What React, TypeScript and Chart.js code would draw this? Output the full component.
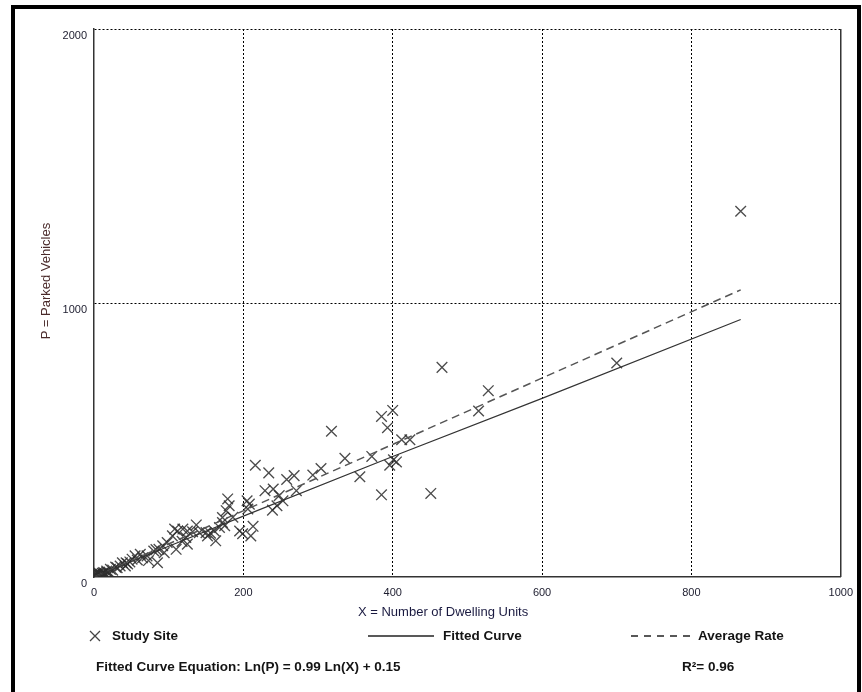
import React, { useEffect, useRef } from "react";
import { Chart, registerables } from "chart.js";

Chart.register(...registerables);

// ---- data ----
const xTicks = [0, 200, 400, 600, 800, 1000];
const yTicks = [0, 1000, 2000];

const studyX = [
  866, 700, 528, 515, 466, 451, 423, 412, 405, 400, 401, 396, 393, 385, 385, 372, 356, 336, 318, 304,
  293, 271, 268, 258, 253, 248, 245, 240, 239, 234, 229, 216, 213, 210, 208, 205, 206, 199, 195, 181,
  179, 177, 172, 186, 175, 168, 161, 163, 172, 150, 156, 152, 141, 137, 132, 125, 119, 108, 105, 112,
  123, 125, 118, 110, 98, 92, 87, 83, 80, 94, 85, 73, 71, 62, 55, 51, 43, 38, 42, 31,
  29, 22, 17, 13, 7, 4, 1, 6, 2, 10, 15, 25, 45, 65, 58, 8, 12, 20, 35, 48,
  3, 5, 9, 11, 14, 18, 0,
];
const studyP = [
  1335, 781, 680, 606, 765, 305, 501, 501, 420, 608, 428, 408, 545, 586, 300, 440, 366, 433, 532, 396,
  372, 315, 370, 356, 278, 297, 260, 321, 244, 380, 315, 408, 185, 150, 266, 278, 248, 158, 168, 260,
  285, 242, 217, 218, 187, 181, 168, 132, 199, 162, 160, 150, 162, 190, 165, 168, 175, 175, 150, 168,
  144, 120, 130, 101, 126, 114, 101, 100, 95, 89, 52, 60, 77, 83, 77, 65, 52, 52, 40, 34,
  36, 28, 22, 16, 14, 16, 10, 4, 2, 8, 12, 25, 48, 70, 62, 6, 12, 18, 40, 55,
  8, 12, 10, 14, 8, 16, 4,
];

const fittedX = [2, 100, 200, 400, 600, 866];
const fittedP = [2, 112, 222, 440, 652, 940];

const avgX = [2, 866];
const avgP = [2, 1048];

const FONT = '"Liberation Sans", Arial, Helvetica, sans-serif';

export default function App() {
  const ref = useRef<HTMLCanvasElement>(null);

  useEffect(() => {
    const canvas = ref.current;
    if (!canvas) return;

    const extras = {
      id: "extras",
      afterDatasetsDraw(chart: any) {
        const { ctx, chartArea } = chart;
        ctx.save();
        // right plot border
        ctx.strokeStyle = "#333";
        ctx.lineWidth = 1.5;
        ctx.beginPath();
        ctx.moveTo(chartArea.right, chartArea.top);
        ctx.lineTo(chartArea.right, chartArea.bottom);
        ctx.stroke();
        // legend symbols
        const ly = 636;
        ctx.strokeStyle = "#444";
        ctx.lineWidth = 1.3;
        ctx.beginPath();
        ctx.moveTo(90, ly - 5);
        ctx.lineTo(100, ly + 5);
        ctx.moveTo(100, ly - 5);
        ctx.lineTo(90, ly + 5);
        ctx.stroke();
        ctx.strokeStyle = "#222";
        ctx.lineWidth = 1.3;
        ctx.beginPath();
        ctx.moveTo(368, ly);
        ctx.lineTo(434, ly);
        ctx.stroke();
        ctx.setLineDash([7, 6]);
        ctx.beginPath();
        ctx.moveTo(631, ly);
        ctx.lineTo(691, ly);
        ctx.stroke();
        ctx.restore();
      },
    };

    const tickColor = "#1c1c2e";

    const chart = new Chart(canvas, {
      type: "scatter",
      data: {
        datasets: [
          {
            label: "Fitted Curve",
            data: fittedX.map((x, i) => ({ x, y: fittedP[i] })),
            showLine: true,
            borderColor: "#333",
            borderWidth: 1.2,
            pointRadius: 0,
            fill: false,
          },
          {
            label: "Average Rate",
            data: avgX.map((x, i) => ({ x, y: avgP[i] })),
            showLine: true,
            borderColor: "#555",
            borderWidth: 1.5,
            borderDash: [8, 5],
            pointRadius: 0,
            fill: false,
          },
          {
            label: "Study Site",
            data: studyX.map((x, i) => ({ x, y: studyP[i] })),
            showLine: false,
            pointStyle: "crossRot",
            pointRadius: 7.5,
            borderColor: "rgba(45,45,45,0.85)",
            borderWidth: 1.35,
            backgroundColor: "transparent",
          },
        ],
      },
      options: {
        responsive: false,
        animation: false,
        devicePixelRatio: 1,
        layout: { padding: { left: 0, top: 29, right: 20, bottom: 0 } },
        plugins: {
          legend: { display: false },
          tooltip: { enabled: false },
          title: { display: false },
        },
        scales: {
          x: {
            type: "linear",
            min: 0,
            max: 1000,
            afterBuildTicks: (s: any) => {
              s.ticks = xTicks.map((v) => ({ value: v }));
            },
            afterFit: (s: any) => {
              s.height = 115;
            },
            grid: {
              color: (c: any) =>
                c.tick && (c.tick.value === 0 || c.tick.value === 1000) ? "rgba(0,0,0,0)" : "#000",
              lineWidth: 1,
              drawTicks: false,
            },
            border: { display: true, color: "#333", width: 1.5, dash: [2, 2] },
            ticks: {
              padding: 9,
              color: tickColor,
              font: { family: FONT, size: 11 },
              maxRotation: 0,
              autoSkip: false,
              callback: (v: any) => String(v),
            },
          },
          y: {
            type: "linear",
            min: 0,
            max: 2000,
            afterBuildTicks: (s: any) => {
              s.ticks = yTicks.map((v) => ({ value: v }));
            },
            afterFit: (s: any) => {
              s.width = 94;
            },
            grid: {
              color: (c: any) => (c.tick && c.tick.value === 0 ? "rgba(0,0,0,0)" : "#000"),
              lineWidth: 1,
              drawTicks: false,
            },
            border: { display: true, color: "#333", width: 1.5, dash: [2, 2] },
            ticks: {
              padding: 7,
              labelOffset: 7,
              color: tickColor,
              font: { family: FONT, size: 11 },
              autoSkip: false,
              callback: (v: any) => String(v),
            },
          },
        },
      } as any,
      plugins: [extras],
    });

    return () => chart.destroy();
  }, []);

  const legendText: React.CSSProperties = {
    position: "absolute",
    fontFamily: FONT,
    fontWeight: "bold",
    fontSize: 13.5,
    lineHeight: "16px",
    color: "#141414",
    whiteSpace: "nowrap",
  };

  return (
    <div
      style={{
        position: "fixed",
        left: 0,
        top: 0,
        width: 862,
        height: 692,
        background: "#fff",
        overflow: "hidden",
      }}
    >
      <canvas ref={ref} width={862} height={692} style={{ position: "absolute", left: 0, top: 0 }} />
      <div
        style={{
          position: "absolute",
          left: 11,
          top: 5,
          width: 842,
          height: 720,
          borderTop: "4.5px solid #000",
          borderLeft: "4.5px solid #000",
          borderRight: "4.5px solid #000",
          pointerEvents: "none",
        }}
      />
      <div
        style={{
          position: "absolute",
          left: 45,
          top: 281,
          transform: "translate(-50%, -50%) rotate(-90deg)",
          fontFamily: FONT,
          fontSize: 13,
          lineHeight: "15px",
          color: "#4a2a2a",
          whiteSpace: "nowrap",
        }}
      >
        P = Parked Vehicles
      </div>
      <div
        style={{
          position: "absolute",
          left: 358,
          top: 603.5,
          fontFamily: FONT,
          fontSize: 13,
          lineHeight: "15px",
          color: "#1a1a40",
          whiteSpace: "nowrap",
        }}
      >
        X = Number of Dwelling Units
      </div>
      <div style={{ ...legendText, left: 112, top: 628 }}>Study Site</div>
      <div style={{ ...legendText, left: 443, top: 628 }}>Fitted Curve</div>
      <div style={{ ...legendText, left: 698, top: 628 }}>Average Rate</div>
      <div style={{ ...legendText, left: 96, top: 659 }}>
        Fitted Curve Equation: Ln(P) = 0.99 Ln(X) + 0.15
      </div>
      <div style={{ ...legendText, left: 682, top: 659 }}>R²= 0.96</div>
    </div>
  );
}
